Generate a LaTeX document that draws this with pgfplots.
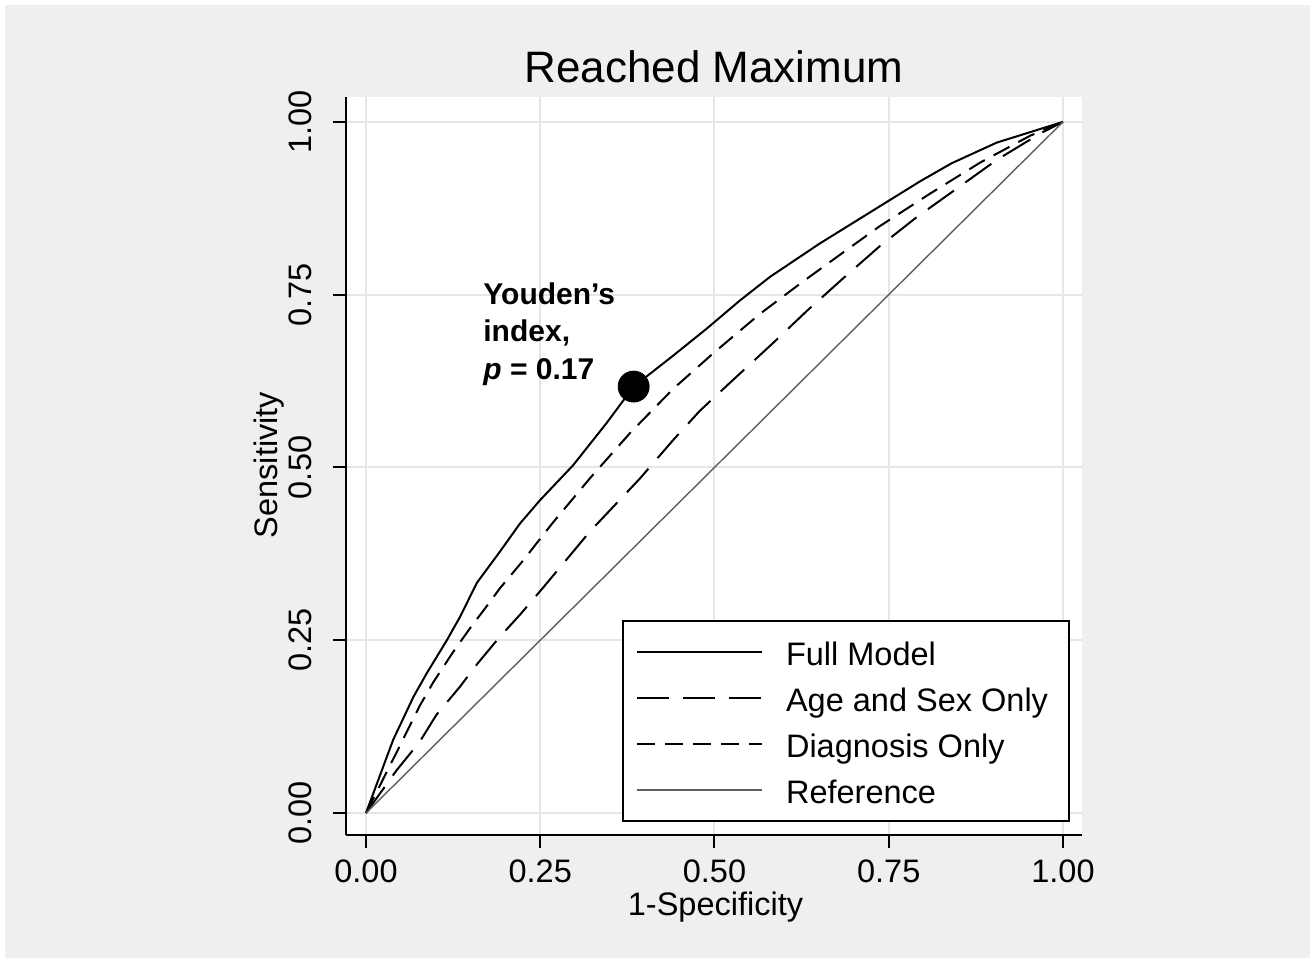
\documentclass[border=0pt]{standalone}
\usepackage{pgfplots}
\pgfplotsset{compat=1.18}
\usepackage{fontspec}
\setmainfont{Liberation Sans}
\definecolor{bggray}{RGB}{239,239,239}
\definecolor{gridgray}{RGB}{230,230,230}
\definecolor{refgray}{RGB}{95,95,95}
\newcommand\lblfont{\fontsize{16.25}{19.5}\selectfont}

% ROC curves
\pgfplotstableread{
x y
0 0
0.039 0.106
0.068 0.168
0.087 0.202
0.116 0.250
0.135 0.284
0.159 0.333
0.192 0.378
0.221 0.419
0.250 0.453
0.297 0.503
0.345 0.564
0.384 0.617
0.441 0.662
0.489 0.701
0.537 0.742
0.580 0.776
0.651 0.824
0.723 0.869
0.795 0.914
0.840 0.940
0.905 0.970
1 1
}\fullmodel
\pgfplotstableread{
x y
0 0
0.044 0.062
0.077 0.103
0.101 0.142
0.135 0.183
0.159 0.215
0.192 0.255
0.221 0.287
0.254 0.326
0.278 0.355
0.321 0.407
0.393 0.484
0.441 0.540
0.479 0.582
0.527 0.627
0.584 0.680
0.632 0.726
0.685 0.774
0.737 0.820
0.790 0.862
0.847 0.903
0.905 0.945
0.967 0.983
1 1
}\agesex
\pgfplotstableread{
x y
0 0
0.020 0.040
0.045 0.090
0.077 0.155
0.097 0.190
0.125 0.233
0.149 0.267
0.173 0.299
0.192 0.325
0.226 0.366
0.250 0.397
0.268 0.420
0.321 0.484
0.379 0.550
0.441 0.614
0.498 0.665
0.532 0.694
0.565 0.722
0.627 0.769
0.690 0.815
0.737 0.849
0.809 0.896
0.881 0.941
0.953 0.980
1 1
}\diagnosis

\begin{document}
\begin{tikzpicture}
\path[use as bounding box] (0,0) rectangle (657.5pt,481.5pt);
\fill[white] (0,0) rectangle (657.5pt,481.5pt);
\fill[bggray] (2.5pt,2.5pt) rectangle (655pt,479pt);
\begin{axis}[
 at={(173pt,64pt)},anchor=south west,
 scale only axis,width=368pt,height=369pt,
 xmin=-0.0287,xmax=1.0273,ymin=-0.0318,ymax=1.036,
 axis background/.style={fill=white},
 axis lines=left,axis line style={-,line width=1pt,black},
 tick align=outside,major tick length=6.5pt,
 tick style={black,line width=1pt},
 xtick={0,0.25,0.5,0.75,1},ytick={0,0.25,0.5,0.75,1},
 xticklabels={0.00,0.25,0.50,0.75,1.00},
 yticklabels={0.00,0.25,0.50,0.75,1.00},
 ticklabel style={font=\lblfont},
 xticklabel style={inner sep=0pt,yshift=-5.8pt},
 yticklabel style={xshift=-7pt,rotate=90,anchor=south},
 grid=major,grid style={gridgray,line width=1pt},
 legend cell align=left,
 legend image code/.code={\draw[#1,line cap=butt] (0pt,0pt) -- (62.5pt,0pt);},
 legend style={at={(rel axis cs:0.9837,0.0176)},anchor=south east,
  draw=black,line width=1pt,fill=white,font=\lblfont,
  inner xsep=6.5pt,inner ysep=6.5pt,row sep=5pt,
  nodes={inner sep=0pt,text height=15.5pt,text depth=2.5pt},
  /tikz/every odd column/.append style={column sep=11.5pt}},
]
\addplot[black,line width=1pt] table[x=x,y=y]{\fullmodel};
\addlegendentry{Full Model}
\addplot[black,line width=1pt,dash pattern=on 16pt off 7pt] table[x=x,y=y]{\agesex};
\addlegendentry{Age and Sex Only\hspace*{4pt}}
\addplot[black,line width=1pt,dash pattern=on 9pt off 5pt] table[x=x,y=y]{\diagnosis};
\addlegendentry{Diagnosis Only}
\addplot[refgray,line width=0.7pt] coordinates {(0,0) (1,1)};
\addlegendentry{Reference}
\addplot[black,only marks,mark=*,mark size=7.75pt,forget plot] coordinates {(0.384,0.617)};
\end{axis}
\node[anchor=base,font=\fontsize{22}{26}\selectfont] at (357pt,440pt) {Reached Maximum};
\node[anchor=base,inner sep=0pt,font=\lblfont] at (357.75pt,23.8pt) {1-Specificity};
\node[anchor=base,rotate=90,font=\lblfont] at (138.5pt,249pt) {Sensitivity};
\begin{scope}[every node/.style={anchor=base west,inner sep=0pt,font=\fontsize{15}{18}\selectfont\bfseries}]
\node at (241.5pt,329pt) {Youden’s};
\node at (241.5pt,310.5pt) {index,};
\node at (241.5pt,291.5pt) {\textit{p} = 0.17};
\end{scope}
\end{tikzpicture}
\end{document}
